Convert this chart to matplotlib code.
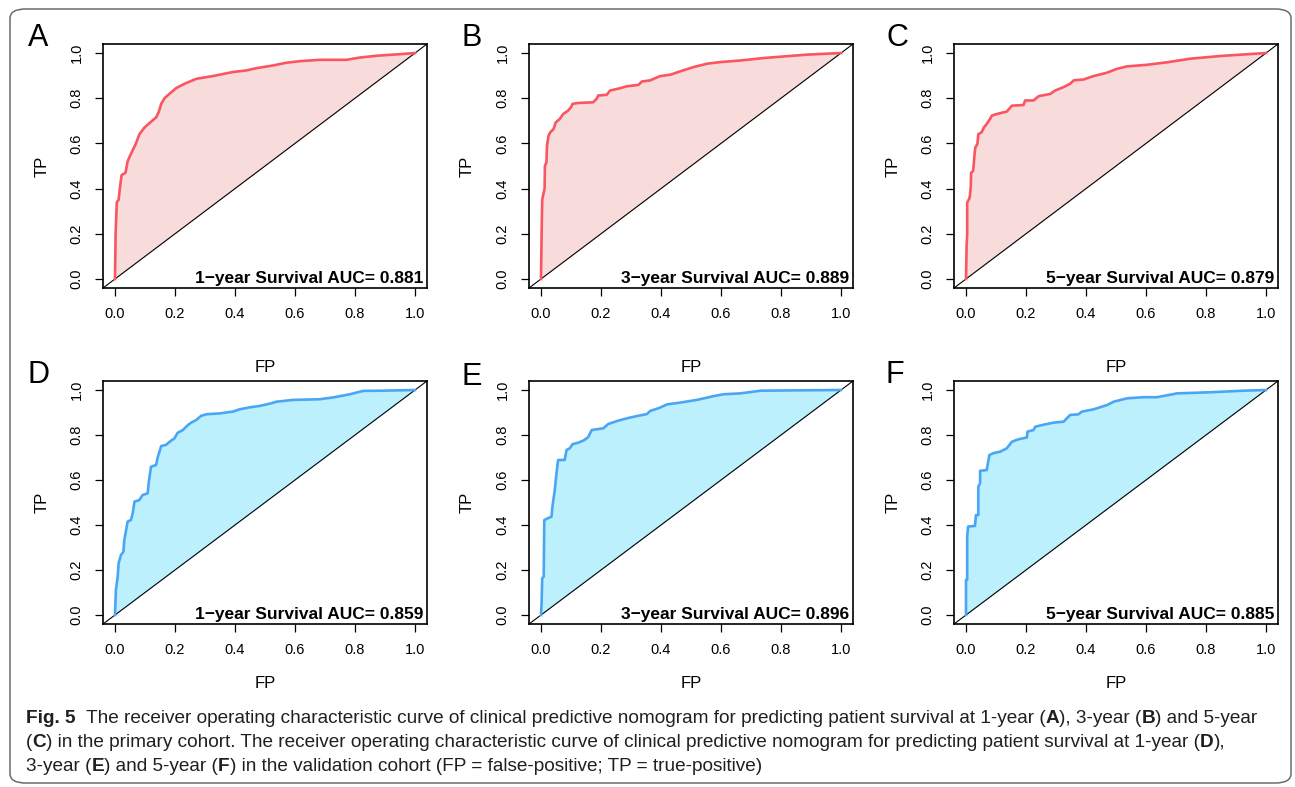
import matplotlib
matplotlib.use("Agg")
import matplotlib.pyplot as plt
from matplotlib.patches import FancyBboxPatch

# ---------------- data ----------------
A_fpr = [0, 0.001, 0.002, 0.006, 0.012, 0.017, 0.022, 0.035, 0.042, 0.05, 0.059, 0.07, 0.081, 0.098,
         0.115, 0.137, 0.146, 0.154, 0.165, 0.182, 0.204, 0.232, 0.271, 0.326, 0.393, 0.438, 0.471,
         0.527, 0.571, 0.616, 0.683, 0.772, 0.816, 0.872, 0.95, 1.0]
A_tpr = [0, 0.10, 0.20, 0.34, 0.35, 0.41, 0.46, 0.47, 0.52, 0.545, 0.57, 0.60, 0.64, 0.67,
         0.69, 0.715, 0.74, 0.775, 0.80, 0.82, 0.845, 0.864, 0.886, 0.898, 0.916, 0.923, 0.933,
         0.945, 0.957, 0.964, 0.97, 0.97, 0.98, 0.988, 0.995, 1.0]

B_fpr = [0, 0.002, 0.004, 0.007, 0.012, 0.013, 0.018, 0.02, 0.025, 0.031, 0.042, 0.049, 0.0625, 0.074,
         0.09, 0.10, 0.105, 0.124, 0.174, 0.185, 0.191, 0.219, 0.23, 0.263, 0.286, 0.325, 0.336,
         0.364, 0.397, 0.431, 0.464, 0.509, 0.554, 0.598, 0.665, 0.743, 0.81, 0.888, 1.0]
B_tpr = [0, 0.20, 0.35, 0.37, 0.40, 0.50, 0.516, 0.59, 0.634, 0.649, 0.664, 0.693, 0.708, 0.73,
         0.745, 0.76, 0.775, 0.779, 0.782, 0.797, 0.812, 0.815, 0.834, 0.844, 0.853, 0.859, 0.874,
         0.879, 0.898, 0.904, 0.919, 0.938, 0.953, 0.96, 0.967, 0.978, 0.985, 0.993, 1.0]

C_fpr = [0, 0.002, 0.004, 0.004, 0.011, 0.013, 0.016, 0.017, 0.024, 0.028, 0.031, 0.038, 0.041, 0.052,
         0.06, 0.069, 0.08, 0.086, 0.102, 0.136, 0.153, 0.192, 0.197, 0.225, 0.242, 0.281, 0.297,
         0.325, 0.347, 0.359, 0.392, 0.425, 0.47, 0.503, 0.537, 0.604, 0.67, 0.748, 0.849, 1.0]
C_tpr = [0, 0.145, 0.20, 0.338, 0.356, 0.367, 0.41, 0.47, 0.479, 0.545, 0.582, 0.597, 0.641, 0.649,
         0.671, 0.686, 0.708, 0.723, 0.73, 0.741, 0.767, 0.77, 0.79, 0.79, 0.809, 0.819, 0.834,
         0.849, 0.864, 0.879, 0.883, 0.898, 0.913, 0.93, 0.941, 0.948, 0.959, 0.975, 0.987, 1.0]

D_fpr = [0, 0.003, 0.009, 0.012, 0.02, 0.028, 0.031, 0.042, 0.053, 0.059, 0.065, 0.081, 0.092, 0.109,
         0.112, 0.12, 0.137, 0.143, 0.154, 0.17, 0.182, 0.198, 0.209, 0.226, 0.243, 0.254, 0.271,
         0.287, 0.304, 0.349, 0.393, 0.415, 0.449, 0.482, 0.521, 0.538, 0.594, 0.683, 0.727, 0.783,
         0.827, 0.894, 1.0]
D_tpr = [0, 0.111, 0.17, 0.23, 0.267, 0.281, 0.333, 0.415, 0.422, 0.452, 0.504, 0.511, 0.533, 0.541,
         0.585, 0.659, 0.667, 0.704, 0.751, 0.756, 0.77, 0.785, 0.81, 0.822, 0.844, 0.855, 0.867,
         0.885, 0.892, 0.896, 0.904, 0.914, 0.923, 0.929, 0.941, 0.948, 0.956, 0.959, 0.967, 0.981,
         0.996, 0.997, 1.0]

E_fpr = [0, 0.002, 0.004, 0.009, 0.011, 0.023, 0.035, 0.038, 0.046, 0.051, 0.057, 0.079, 0.085, 0.096,
         0.105, 0.124, 0.141, 0.157, 0.169, 0.208, 0.224, 0.258, 0.286, 0.319, 0.353, 0.364, 0.392,
         0.42, 0.464, 0.52, 0.576, 0.609, 0.665, 0.732, 1.0]
E_tpr = [0, 0.052, 0.163, 0.17, 0.422, 0.43, 0.437, 0.481, 0.556, 0.622, 0.689, 0.689, 0.733, 0.741,
         0.759, 0.766, 0.775, 0.79, 0.822, 0.83, 0.849, 0.864, 0.874, 0.884, 0.893, 0.907, 0.919,
         0.936, 0.944, 0.956, 0.973, 0.981, 0.985, 0.997, 1.0]

F_fpr = [0, 0.0, 0.004, 0.004, 0.007, 0.03, 0.033, 0.041, 0.041, 0.047, 0.047, 0.069, 0.075, 0.078,
         0.091, 0.114, 0.136, 0.153, 0.175, 0.203, 0.205, 0.225, 0.231, 0.253, 0.292, 0.325, 0.347,
         0.375, 0.386, 0.425, 0.47, 0.492, 0.537, 0.592, 0.637, 0.704, 0.815, 0.927, 1.0]
F_tpr = [0, 0.156, 0.156, 0.348, 0.393, 0.396, 0.444, 0.444, 0.57, 0.585, 0.641, 0.644, 0.689, 0.711,
         0.719, 0.726, 0.741, 0.77, 0.781, 0.789, 0.815, 0.822, 0.837, 0.844, 0.855, 0.859, 0.889,
         0.892, 0.904, 0.914, 0.933, 0.948, 0.963, 0.968, 0.968, 0.985, 0.99, 0.997, 1.0]

panel_letters = ["A", "B", "C", "D", "E", "F"]
auc_labels = ["1\u2212year Survival AUC= 0.881", "3\u2212year Survival AUC= 0.889",
              "5\u2212year Survival AUC= 0.879", "1\u2212year Survival AUC= 0.859",
              "3\u2212year Survival AUC= 0.896", "5\u2212year Survival AUC= 0.885"]
tick_vals = [0.0, 0.2, 0.4, 0.6, 0.8, 1.0]
tick_labels = ["0.0", "0.2", "0.4", "0.6", "0.8", "1.0"]
x_label = "FP"
y_label = "TP"

curves = [(A_fpr, A_tpr), (B_fpr, B_tpr), (C_fpr, C_tpr),
          (D_fpr, D_tpr), (E_fpr, E_tpr), (F_fpr, F_tpr)]

# ---------------- layout / style ----------------
W, H = 1295, 787
FONT = ["Liberation Sans", "DejaVu Sans"]
RED_LINE, RED_FILL = "#FA5560", "#F8DCDC"
BLUE_LINE, BLUE_FILL = "#4AA6F4", "#BDF0FD"

fig = plt.figure(figsize=(W / 100, H / 100), dpi=100)
fig.patch.set_facecolor("white")

# outer rounded frame
frame = FancyBboxPatch((10 / W, 1 - 783 / H), (1291 - 10) / W, (783 - 9) / H,
                       boxstyle="round,pad=0,rounding_size=0.012",
                       transform=fig.transFigure, facecolor="none",
                       edgecolor="#6b6b6b", linewidth=1.1, zorder=-5)
fig.patches.append(frame)

col_lr = [(103, 427), (529, 853), (954, 1278)]
row_tb = [(44, 288), (381, 624)]
letter_pos = [(38, 38), (472, 38), (897, 38), (39, 375), (472, 377), (895, 375)]
ylab_x = [42, 467, 893]
xlab_y = [368, 683]

for i, (fpr, tpr) in enumerate(curves):
    r, c = divmod(i, 3)
    l, rr = col_lr[c]
    t, b = row_tb[r]
    ax = fig.add_axes([l / W, 1 - b / H, (rr - l) / W, (b - t) / H])
    ax.set_facecolor("none")
    line_c, fill_c = (RED_LINE, RED_FILL) if r == 0 else (BLUE_LINE, BLUE_FILL)
    ax.fill_between(fpr, fpr, tpr, color=fill_c, linewidth=0, zorder=1)
    ax.plot(fpr, tpr, color=line_c, linewidth=1.9, zorder=3, solid_joinstyle="round")
    ax.axline((0, 0), (1, 1), color="black", linewidth=0.8, zorder=2)
    ax.set_xlim(-0.04, 1.04)
    ax.set_ylim(-0.04, 1.04)
    ax.set_xticks(tick_vals)
    ax.set_xticklabels(tick_labels, fontsize=10.5, family=FONT)
    ax.set_yticks(tick_vals)
    ax.set_yticklabels(tick_labels, fontsize=10.5, family=FONT, rotation=90, va="center")
    ax.tick_params(direction="out", length=6, width=0.9, pad=8, color="black")
    for s in ax.spines.values():
        s.set_linewidth(1.2)
        s.set_color("black")
    ax.set_xlabel(x_label, fontsize=12, family=FONT)
    ax.xaxis.set_label_coords(0.5, -(xlab_y[r] - b) / (b - t))
    ax.xaxis.label.set_va("center")
    ax.set_ylabel(y_label, fontsize=12, family=FONT)
    ax.yaxis.set_label_coords((ylab_x[c] - l) / (rr - l), 0.5)
    ax.yaxis.label.set_va("center")
    ax.text(0.988, 0.022, auc_labels[i], transform=ax.transAxes, ha="right", va="baseline",
            fontsize=12.5, fontweight="bold", family=FONT, zorder=4)
    lx, ly = letter_pos[i]
    fig.text(lx / W, 1 - ly / H, panel_letters[i], fontsize=22, family=FONT,
             ha="center", va="center")

# ---------------- caption with mixed weights ----------------
CAP_FONT = ["Liberation Sans Narrow", "Liberation Sans"]
cap_lines = [
    [("Fig. 5", "bold"), ("  The receiver operating characteristic curve of clinical predictive nomogram for predicting patient survival at 1-year (", "normal"),
     ("A", "bold"), ("), 3-year (", "normal"), ("B", "bold"), (") and 5-year", "normal")],
    [("(", "normal"), ("C", "bold"), (") in the primary cohort. The receiver operating characteristic curve of clinical predictive nomogram for predicting patient survival at 1-year (", "normal"),
     ("D", "bold"), ("),", "normal")],
    [("3-year (", "normal"), ("E", "bold"), (") and 5-year (", "normal"), ("F", "bold"),
     (") in the validation cohort (FP = false-positive; TP = true-positive)", "normal")],
]
cap_baselines = [723, 747, 771]
cap_x0 = 26
renderer = fig.canvas.get_renderer()


def line_width(segs, size):
    tot = 0
    for txt, wt in segs:
        t = fig.text(0, 0, txt, fontsize=size, fontweight=wt, family=CAP_FONT)
        tot += t.get_window_extent(renderer).width
        t.remove()
    return tot


base = 12
target = 1268 - cap_x0
cap_size = base * target / line_width(cap_lines[0], base)

for segs, yb in zip(cap_lines, cap_baselines):
    x = cap_x0
    for txt, wt in segs:
        t = fig.text(x / W, 1 - yb / H, txt, fontsize=cap_size, fontweight=wt,
                     family=CAP_FONT, ha="left", va="baseline", color="#231f20")
        x += t.get_window_extent(renderer).width

fig.savefig("out.png", dpi=100, facecolor="white")
